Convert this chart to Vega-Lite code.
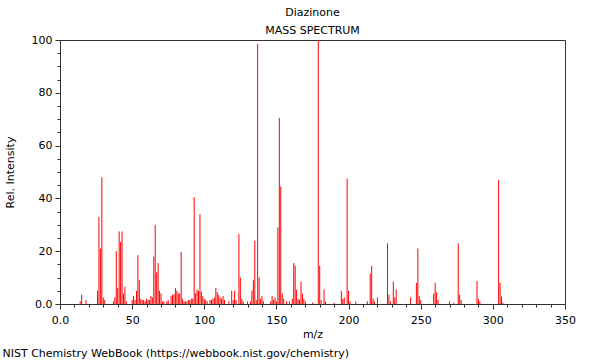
{
  "$schema": "https://vega.github.io/schema/vega-lite/v6.json",
  "background": "white",
  "padding": {"left": 2, "top": 6, "right": 5, "bottom": 3},
  "title": {"text": "NIST Chemistry WebBook (https://webbook.nist.gov/chemistry)", "orient": "bottom", "anchor": "start", "frame": "bounds", "fontSize": 11, "fontWeight": "normal", "font": "DejaVu Sans", "color": "black", "offset": 8, "dx": -1},
  "vconcat": [
    {
      "title": {"text": "Diazinone", "subtitle": "MASS SPECTRUM", "anchor": "middle", "frame": "group", "fontSize": 11, "subtitleFontSize": 11, "fontWeight": "normal", "font": "DejaVu Sans", "subtitleFont": "DejaVu Sans", "color": "black", "subtitleColor": "black", "subtitlePadding": 7, "offset": -2},
      "width": 505,
      "height": 264,
      "data": {"values": [
        {"mz": 14, "intensity": 1}, {"mz": 15, "intensity": 3.5}, {"mz": 18, "intensity": 1.5},
        {"mz": 26, "intensity": 5}, {"mz": 27, "intensity": 33}, {"mz": 28, "intensity": 21}, {"mz": 29, "intensity": 48}, {"mz": 30, "intensity": 2.5}, {"mz": 31, "intensity": 1.5},
        {"mz": 37, "intensity": 1}, {"mz": 38, "intensity": 2.5}, {"mz": 39, "intensity": 20}, {"mz": 40, "intensity": 6}, {"mz": 41, "intensity": 27.5}, {"mz": 42, "intensity": 23.5}, {"mz": 43, "intensity": 27.5}, {"mz": 44, "intensity": 4}, {"mz": 45, "intensity": 6.5}, {"mz": 46, "intensity": 1},
        {"mz": 50, "intensity": 1.5}, {"mz": 51, "intensity": 3}, {"mz": 52, "intensity": 1.5}, {"mz": 53, "intensity": 5}, {"mz": 54, "intensity": 18.5}, {"mz": 55, "intensity": 9}, {"mz": 56, "intensity": 2}, {"mz": 57, "intensity": 1.5}, {"mz": 58, "intensity": 1.5}, {"mz": 59, "intensity": 1},
        {"mz": 60, "intensity": 2}, {"mz": 61, "intensity": 1.5}, {"mz": 62, "intensity": 1.5}, {"mz": 63, "intensity": 3}, {"mz": 64, "intensity": 2.5}, {"mz": 65, "intensity": 18}, {"mz": 66, "intensity": 30}, {"mz": 67, "intensity": 12}, {"mz": 68, "intensity": 15.5}, {"mz": 69, "intensity": 5},
        {"mz": 70, "intensity": 4}, {"mz": 71, "intensity": 1}, {"mz": 72, "intensity": 1}, {"mz": 74, "intensity": 1}, {"mz": 75, "intensity": 1.5}, {"mz": 77, "intensity": 3}, {"mz": 78, "intensity": 3.5}, {"mz": 79, "intensity": 3.8},
        {"mz": 80, "intensity": 6}, {"mz": 81, "intensity": 5}, {"mz": 82, "intensity": 4}, {"mz": 83, "intensity": 4}, {"mz": 84, "intensity": 19.7}, {"mz": 85, "intensity": 2}, {"mz": 86, "intensity": 1}, {"mz": 87, "intensity": 1}, {"mz": 88, "intensity": 1}, {"mz": 89, "intensity": 1.5},
        {"mz": 90, "intensity": 1.5}, {"mz": 91, "intensity": 2}, {"mz": 92, "intensity": 2}, {"mz": 93, "intensity": 40.5}, {"mz": 94, "intensity": 4}, {"mz": 95, "intensity": 5.5}, {"mz": 96, "intensity": 5}, {"mz": 97, "intensity": 34}, {"mz": 98, "intensity": 4.5}, {"mz": 99, "intensity": 3},
        {"mz": 100, "intensity": 2}, {"mz": 101, "intensity": 1.5}, {"mz": 102, "intensity": 1}, {"mz": 104, "intensity": 1.5}, {"mz": 105, "intensity": 1.5}, {"mz": 106, "intensity": 2}, {"mz": 107, "intensity": 2.5}, {"mz": 108, "intensity": 6}, {"mz": 109, "intensity": 4.5},
        {"mz": 110, "intensity": 3.5}, {"mz": 111, "intensity": 2.5}, {"mz": 112, "intensity": 2}, {"mz": 113, "intensity": 3}, {"mz": 114, "intensity": 1.5}, {"mz": 117, "intensity": 1}, {"mz": 119, "intensity": 5},
        {"mz": 120, "intensity": 1.5}, {"mz": 121, "intensity": 5}, {"mz": 122, "intensity": 1.5}, {"mz": 124, "intensity": 26.5}, {"mz": 125, "intensity": 10}, {"mz": 126, "intensity": 2}, {"mz": 127, "intensity": 1},
        {"mz": 130, "intensity": 1}, {"mz": 132, "intensity": 1}, {"mz": 133, "intensity": 5}, {"mz": 134, "intensity": 9}, {"mz": 135, "intensity": 24}, {"mz": 136, "intensity": 1.5}, {"mz": 137, "intensity": 98.5}, {"mz": 138, "intensity": 10}, {"mz": 139, "intensity": 2},
        {"mz": 140, "intensity": 3}, {"mz": 141, "intensity": 1}, {"mz": 146, "intensity": 1}, {"mz": 147, "intensity": 3}, {"mz": 148, "intensity": 1.5}, {"mz": 149, "intensity": 2.5},
        {"mz": 150, "intensity": 1}, {"mz": 151, "intensity": 29}, {"mz": 152, "intensity": 70.5}, {"mz": 153, "intensity": 44.5}, {"mz": 154, "intensity": 4}, {"mz": 155, "intensity": 2}, {"mz": 157, "intensity": 1}, {"mz": 159, "intensity": 1},
        {"mz": 161, "intensity": 2}, {"mz": 162, "intensity": 15.5}, {"mz": 163, "intensity": 14.5}, {"mz": 164, "intensity": 5.5}, {"mz": 165, "intensity": 2}, {"mz": 166, "intensity": 1.5}, {"mz": 167, "intensity": 8.5}, {"mz": 168, "intensity": 4}, {"mz": 169, "intensity": 2},
        {"mz": 170, "intensity": 1}, {"mz": 175, "intensity": 0.5}, {"mz": 179, "intensity": 100}, {"mz": 180, "intensity": 14.5}, {"mz": 181, "intensity": 1.5}, {"mz": 183, "intensity": 5.5}, {"mz": 184, "intensity": 1},
        {"mz": 190, "intensity": 0.5}, {"mz": 195, "intensity": 5}, {"mz": 196, "intensity": 2}, {"mz": 197, "intensity": 2.5}, {"mz": 199, "intensity": 47.5}, {"mz": 200, "intensity": 5}, {"mz": 201, "intensity": 1}, {"mz": 205, "intensity": 1},
        {"mz": 213, "intensity": 1}, {"mz": 215, "intensity": 11.5}, {"mz": 216, "intensity": 14.5}, {"mz": 217, "intensity": 2}, {"mz": 218, "intensity": 1}, {"mz": 220, "intensity": 2.5},
        {"mz": 227, "intensity": 23}, {"mz": 228, "intensity": 3.5}, {"mz": 229, "intensity": 1}, {"mz": 231, "intensity": 8.5}, {"mz": 232, "intensity": 2.5}, {"mz": 233, "intensity": 5.5},
        {"mz": 243, "intensity": 2.5}, {"mz": 247, "intensity": 8}, {"mz": 248, "intensity": 21}, {"mz": 249, "intensity": 3}, {"mz": 250, "intensity": 1.5},
        {"mz": 259, "intensity": 4}, {"mz": 260, "intensity": 8}, {"mz": 261, "intensity": 4.5}, {"mz": 262, "intensity": 1.5}, {"mz": 270, "intensity": 1}, {"mz": 273, "intensity": 0.5},
        {"mz": 276, "intensity": 23}, {"mz": 277, "intensity": 3.5}, {"mz": 278, "intensity": 1.5}, {"mz": 289, "intensity": 8.7}, {"mz": 290, "intensity": 2}, {"mz": 291, "intensity": 1},
        {"mz": 304, "intensity": 47}, {"mz": 305, "intensity": 8}, {"mz": 306, "intensity": 2.8}, {"mz": 307, "intensity": 0.5}
      ]},
      "mark": {"type": "rule", "color": "#ff0000", "strokeWidth": 1},
      "encoding": {
        "x": {"field": "mz", "type": "quantitative", "scale": {"domain": [0, 350], "nice": false, "zero": false},
          "axis": {"title": "m/z", "values": [0,10,20,30,40,50,60,70,80,90,100,110,120,130,140,150,160,170,180,190,200,210,220,230,240,250,260,270,280,290,300,310,320,330,340,350],
            "labelExpr": "datum.value % 50 == 0 ? (datum.value == 0 ? '0.0' : datum.label) : ''",
            "tickSize": {"condition": {"test": "datum.value % 50 == 0", "value": 5}, "value": 3},
            "labelOverlap": false, "labelFlush": false, "grid": false, "labelPadding": 5, "titlePadding": 3}},
        "y": {"field": "intensity", "type": "quantitative", "scale": {"domain": [0, 100], "nice": false},
          "axis": {"title": "Rel. Intensity", "values": [0,5,10,15,20,25,30,35,40,45,50,55,60,65,70,75,80,85,90,95,100],
            "labelExpr": "datum.value % 20 == 0 ? (datum.value == 0 ? '0.0' : datum.label) : ''",
            "tickSize": {"condition": {"test": "datum.value % 20 == 0", "value": 5}, "value": 3},
            "labelOverlap": false, "labelFlush": false, "grid": false, "labelPadding": 3, "titlePadding": 16}},
        "y2": {"datum": 0}
      }
    }
  ],
  "config": {
    "font": "DejaVu Sans",
    "view": {"stroke": "#333333", "strokeWidth": 1},
    "axis": {"labelFont": "DejaVu Sans", "titleFont": "DejaVu Sans", "labelFontSize": 11, "titleFontSize": 11, "titleFontWeight": "normal", "labelColor": "black", "titleColor": "black", "domainColor": "#333333", "tickColor": "#333333"}
  }
}
